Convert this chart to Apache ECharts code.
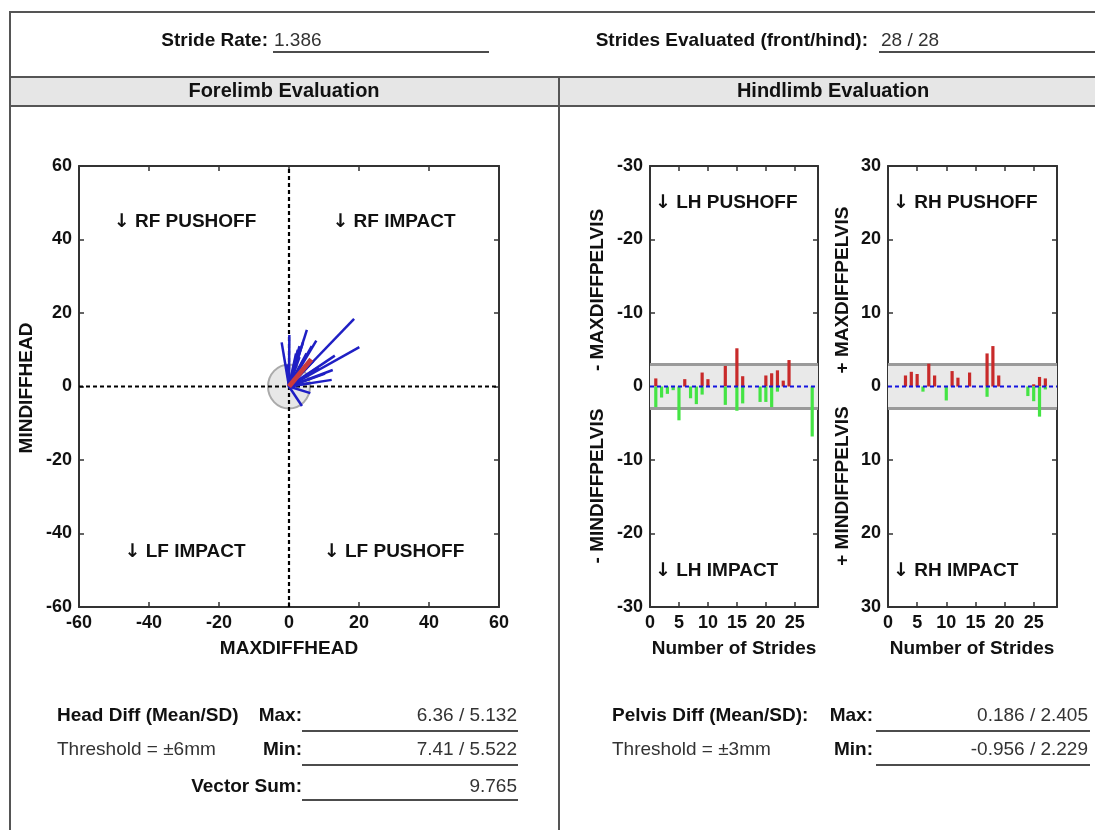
<!DOCTYPE html>
<html><head><meta charset="utf-8">
<script src="https://cdn.jsdelivr.net/npm/echarts@6/dist/echarts.min.js"></script>
<style>html,body{margin:0;padding:0;background:#fff;}#c{width:1095px;height:830px;}</style>
</head><body><div id="c"></div>
<script>
// ---------- data ----------
const strideRate = '1.386';
const stridesEvaluated = '28 / 28';

// Forelimb vectors (MAXDIFFHEAD, MINDIFFHEAD) per stride
const headMaxDiff = [18.6, 20.1, -2.1, 0.1, 5.1, 7.8, 3.0, 13.1, 12.5, 12.2, 10.3, 5.7, 6.1, 3.7,
                     4.0, 5.0, 7.0, 8.0, 4.0, 2.0, -0.5, 6.0, 3.0, 5.0, 8.5, 1.5, 2.5, 6.5];
const headMinDiff = [18.4, 10.7, 12.0, 14.0, 15.4, 12.5, 11.0, 8.4, 4.5, 1.8, 3.5, 0.9, -1.8, -5.3,
                     12.0, 9.0, 7.0, 5.0, 7.0, 9.0, 6.0, 6.0, 8.0, 5.5, 5.0, 1.0, 10.0, 11.0];
const headMeanMax = 6.36, headSDMax = 5.132;
const headMeanMin = 7.41, headSDMin = 5.522;
const headVectorSum = 9.765;
const headThreshold = 6;

// Hindlimb bars per stride (1..28): magnitudes of max (red, up) and min (green, down)
const strides = [1,2,3,4,5,6,7,8,9,10,11,12,13,14,15,16,17,18,19,20,21,22,23,24,25,26,27,28];
const lhMax = [1.1,0,0,0,0,1.0,0,0,1.9,1.0,0,0,2.8,0,5.2,1.4,0,0,0,1.5,1.8,2.2,0.8,3.6,0,0,0,0];
const lhMin = [2.8,1.5,1.0,0.5,4.6,0,1.6,2.4,1.1,0,0,0,2.5,0,3.3,2.3,0,0,2.1,2.1,2.8,0.7,0,0,0,0,0,6.8];
const rhMax = [0,0,1.5,2.0,1.7,0,3.1,1.5,0,0,2.1,1.2,0,1.9,0,0,4.5,5.5,1.5,0,0,0,0,0,0.3,1.3,1.1,0];
const rhMin = [0,0,0,0,0,0.7,0,0,0,1.9,0,0,0,0,0,0,1.4,0,0,0,0,0,0,1.3,2.0,4.1,0.4,0];
const pelvisMeanMax = 0.186, pelvisSDMax = 2.405;
const pelvisMeanMin = -0.956, pelvisSDMin = 2.229;
const pelvisThreshold = 3;

// Axis ranges
const headRange = [-60, 60], headInterval = 20;
const pelvisRange = [-30, 30], pelvisInterval = 10;
const strideRange = [0, 29], strideInterval = 5;

// ---------- chart ----------
const FONT = '"Liberation Sans", Arial, sans-serif';
const AX = '#333';
const chart = echarts.init(document.getElementById('c'));

const grids = [
  {left: 79, top: 166, width: 420, height: 441},
  {left: 650, top: 166, width: 168, height: 441},
  {left: 888, top: 166, width: 169, height: 441}
].map(g => Object.assign(g, {outerBoundsMode: 'none', containLabel: false}));

function axis(gridIndex, position, range, interval, showLabel, formatter, extra) {
  return Object.assign({
    type: 'value', gridIndex, position, min: range[0], max: range[1], interval,
    axisLine: {show: true, onZero: false, lineStyle: {color: AX, width: 2}},
    axisTick: {show: true, inside: true, length: 5, lineStyle: {color: AX, width: 1.5}},
    splitLine: {show: false},
    axisLabel: {show: showLabel, color: '#111', fontFamily: FONT, fontWeight: 'bold', fontSize: 18,
                margin: 7, formatter: formatter}
  }, extra || {});
}
const leftFmt = v => v === 0 ? '0' : '-' + Math.abs(v);
const rightFmt = v => String(Math.abs(v));

const xAxis = [
  axis(0, 'bottom', headRange, headInterval, true),
  axis(0, 'top', headRange, headInterval, false),
  axis(1, 'bottom', strideRange, strideInterval, true),
  axis(1, 'top', strideRange, strideInterval, false),
  axis(2, 'bottom', strideRange, strideInterval, true),
  axis(2, 'top', strideRange, strideInterval, false)
];
xAxis[2].axisLabel.showMaxLabel = false;
xAxis[4].axisLabel.showMaxLabel = false;
const yAxis = [
  axis(0, 'left', headRange, headInterval, true),
  axis(0, 'right', headRange, headInterval, false),
  axis(1, 'left', pelvisRange, pelvisInterval, true, leftFmt),
  axis(1, 'right', pelvisRange, pelvisInterval, false),
  axis(2, 'left', pelvisRange, pelvisInterval, true, rightFmt),
  axis(2, 'right', pelvisRange, pelvisInterval, false)
];

const series = [];
// threshold circle
series.push({
  type: 'custom', xAxisIndex: 0, yAxisIndex: 0, z: 1, silent: true,
  data: [[0, 0, headThreshold]],
  renderItem(p, api) {
    const c = api.coord([api.value(0), api.value(1)]);
    const s = api.size([api.value(2), api.value(2)]);
    return {type: 'ellipse', shape: {cx: c[0], cy: c[1], rx: s[0], ry: s[1]},
            style: {fill: 'rgba(225,225,225,0.8)', stroke: '#aaaaaa', lineWidth: 2}};
  }
});
// dashed zero axes for forelimb
series.push({
  type: 'custom', xAxisIndex: 0, yAxisIndex: 0, z: 2, silent: true,
  data: [[0, 0]],
  renderItem(p, api) {
    const a = api.coord([headRange[0], 0]), b = api.coord([headRange[1], 0]);
    const c = api.coord([0, headRange[0]]), d = api.coord([0, headRange[1]]);
    const st = {stroke: '#000', lineWidth: 2.2, lineDash: [4, 3]};
    return {type: 'group', children: [
      {type: 'line', shape: {x1: a[0], y1: a[1], x2: b[0], y2: b[1]}, style: st},
      {type: 'line', shape: {x1: c[0], y1: c[1], x2: d[0], y2: d[1]}, style: st}
    ]};
  }
});
// vectors
series.push({
  type: 'custom', xAxisIndex: 0, yAxisIndex: 0, z: 3, silent: true,
  data: headMaxDiff.map((x, i) => [x, headMinDiff[i]]),
  renderItem(p, api) {
    const o = api.coord([0, 0]), e = api.coord([api.value(0), api.value(1)]);
    return {type: 'line', shape: {x1: o[0], y1: o[1], x2: e[0], y2: e[1]},
            style: {stroke: '#1f1fc4', lineWidth: 2.5}};
  }
});
// mean vector
series.push({
  type: 'line', xAxisIndex: 0, yAxisIndex: 0, z: 4, silent: true, symbol: 'none',
  data: [[0, 0], [headMeanMax, headMeanMin]],
  lineStyle: {color: '#cc3b3b', width: 5}
});

// hindlimb
function hindSeries(g, maxVals, minVals) {
  const xi = 2 * g, yi = 2 * g;
  series.push({
    type: 'custom', xAxisIndex: xi, yAxisIndex: yi, z: 1, silent: true,
    data: [[pelvisThreshold]],
    renderItem(p, api) {
      const t = api.value(0);
      const a = api.coord([strideRange[0], t]), b = api.coord([strideRange[1], -t]);
      return {type: 'group', children: [
        {type: 'rect', shape: {x: a[0], y: a[1], width: b[0] - a[0], height: b[1] - a[1]},
         style: {fill: '#e9e9e9'}},
        {type: 'line', shape: {x1: a[0], y1: a[1], x2: b[0], y2: a[1]}, style: {stroke: '#9a9a9a', lineWidth: 3}},
        {type: 'line', shape: {x1: a[0], y1: b[1], x2: b[0], y2: b[1]}, style: {stroke: '#9a9a9a', lineWidth: 3}}
      ]};
    }
  });
  const bar = (vals, sign, color) => ({
    type: 'custom', xAxisIndex: xi, yAxisIndex: yi, z: 3, silent: true,
    data: strides.map((s, i) => [s, sign * vals[i]]).filter(d => d[1] !== 0),
    renderItem(p, api) {
      const a = api.coord([api.value(0), 0]), b = api.coord([api.value(0), api.value(1)]);
      return {type: 'rect', shape: {x: a[0] - 1.6, y: Math.min(a[1], b[1]), width: 3.2, height: Math.abs(b[1] - a[1])},
              style: {fill: color}};
    }
  });
  series.push(bar(maxVals, 1, '#c82a2a'));
  series.push(bar(minVals, -1, '#44e444'));
  series.push({
    type: 'custom', xAxisIndex: xi, yAxisIndex: yi, z: 5, silent: true,
    data: [[0]],
    renderItem(p, api) {
      const a = api.coord([strideRange[0], 0]), b = api.coord([strideRange[1], 0]);
      return {type: 'line', shape: {x1: a[0], y1: a[1], x2: b[0], y2: b[1]},
              style: {stroke: '#1414e0', lineWidth: 2, lineDash: [4, 3]}};
    }
  });
}
hindSeries(1, lhMax, lhMin);
hindSeries(2, rhMax, rhMin);

// ---------- form / text ----------
const B = 'bold 19px ' + FONT, N = '19px ' + FONT;
function txt(x, y, text, font, align, extra) {
  return Object.assign({type: 'text', x, y, z: 10, silent: true,
    style: {text, font, fill: '#111', textAlign: align || 'left', textVerticalAlign: 'middle'}}, extra || {});
}
function quad(x, y, label, align) {
  return {type: 'text', x, y, z: 10, silent: true,
    style: {text: '{a|\u2193} ' + label, font: B, fill: '#111', textAlign: align, textVerticalAlign: 'middle',
            rich: {a: {fontFamily: '"DejaVu Sans"', fontWeight: 'bold', fontSize: 19, fill: '#111'}}}};
}
function ln(x1, y1, x2, y2, w, color) {
  return {type: 'line', z: 9, silent: true, shape: {x1, y1, x2, y2}, style: {stroke: color || '#111', lineWidth: w || 1.5}};
}
const g = [];
g.push({type: 'rect', z: 0, silent: true, shape: {x: 10, y: 77, width: 1100, height: 29}, style: {fill: '#e6e6e6'}});
g.push({type: 'rect', z: 9, silent: true, shape: {x: 10, y: 12, width: 1100, height: 830}, style: {fill: 'none', stroke: '#555', lineWidth: 2}});
g.push(ln(10, 77, 1100, 77, 2, '#555'));
g.push(ln(10, 106, 1100, 106, 2, '#555'));
g.push(ln(559, 77, 559, 840, 2, '#555'));

const valTxt = (x, y, t, align) => txt(x, y, t, N, align, {style: {text: t, font: N, fill: '#333', textAlign: align, textVerticalAlign: 'middle'}});

g.push(txt(268, 41, 'Stride Rate:', B, 'right'));
g.push(valTxt(274, 41, strideRate, 'left'));
g.push(ln(273, 52, 489, 52));
g.push(txt(868, 41, 'Strides Evaluated (front/hind):', B, 'right'));
g.push(valTxt(881, 41, stridesEvaluated, 'left'));
g.push(ln(879, 52, 1100, 52));

g.push(txt(284, 91, 'Forelimb Evaluation', 'bold 20px ' + FONT, 'center'));
g.push(txt(833, 91, 'Hindlimb Evaluation', 'bold 20px ' + FONT, 'center'));

// quadrant labels
g.push(quad(185, 222, 'RF PUSHOFF', 'center'));
g.push(quad(394, 222, 'RF IMPACT', 'center'));
g.push(quad(185, 552, 'LF IMPACT', 'center'));
g.push(quad(394, 552, 'LF PUSHOFF', 'center'));
g.push(quad(655, 203, 'LH PUSHOFF', 'left'));
g.push(quad(655, 571, 'LH IMPACT', 'left'));
g.push(quad(893, 203, 'RH PUSHOFF', 'left'));
g.push(quad(893, 571, 'RH IMPACT', 'left'));

// axis titles
g.push(txt(289, 649, 'MAXDIFFHEAD', B, 'center'));
g.push(txt(27, 388, 'MINDIFFHEAD', B, 'center', {rotation: Math.PI / 2}));
g.push(txt(734, 649, 'Number of Strides', B, 'center'));
g.push(txt(972, 649, 'Number of Strides', B, 'center'));
g.push(txt(598, 290, '- MAXDIFFPELVIS', B, 'center', {rotation: Math.PI / 2}));
g.push(txt(598, 486, '- MINDIFFPELVIS', B, 'center', {rotation: Math.PI / 2}));
g.push(txt(843, 290, '+ MAXDIFFPELVIS', B, 'center', {rotation: Math.PI / 2}));
g.push(txt(843, 486, '+ MINDIFFPELVIS', B, 'center', {rotation: Math.PI / 2}));

// bottom left
g.push(txt(57, 716, 'Head Diff (Mean/SD)', B, 'left'));
g.push(txt(302, 716, 'Max:', B, 'right'));
g.push(valTxt(517, 716, headMeanMax + ' / ' + headSDMax, 'right'));
g.push(ln(302, 731, 518, 731));
g.push(valTxt(57, 750, 'Threshold = \u00b1' + headThreshold + 'mm', 'left'));
g.push(txt(302, 750, 'Min:', B, 'right'));
g.push(valTxt(517, 750, headMeanMin + ' / ' + headSDMin, 'right'));
g.push(ln(302, 765, 518, 765));
g.push(txt(302, 787, 'Vector Sum:', B, 'right'));
g.push(valTxt(517, 787, String(headVectorSum), 'right'));
g.push(ln(302, 800, 518, 800));

// bottom right
g.push(txt(612, 716, 'Pelvis Diff (Mean/SD):', B, 'left'));
g.push(txt(873, 716, 'Max:', B, 'right'));
g.push(valTxt(1088, 716, pelvisMeanMax + ' / ' + pelvisSDMax, 'right'));
g.push(ln(876, 731, 1090, 731));
g.push(valTxt(612, 750, 'Threshold = \u00b1' + pelvisThreshold + 'mm', 'left'));
g.push(txt(873, 750, 'Min:', B, 'right'));
g.push(valTxt(1088, 750, pelvisMeanMin + ' / ' + pelvisSDMin, 'right'));
g.push(ln(876, 765, 1090, 765));

chart.setOption({
  animation: false,
  backgroundColor: '#fff',
  grid: grids,
  xAxis, yAxis, series,
  graphic: g
});
</script>
</body></html>
